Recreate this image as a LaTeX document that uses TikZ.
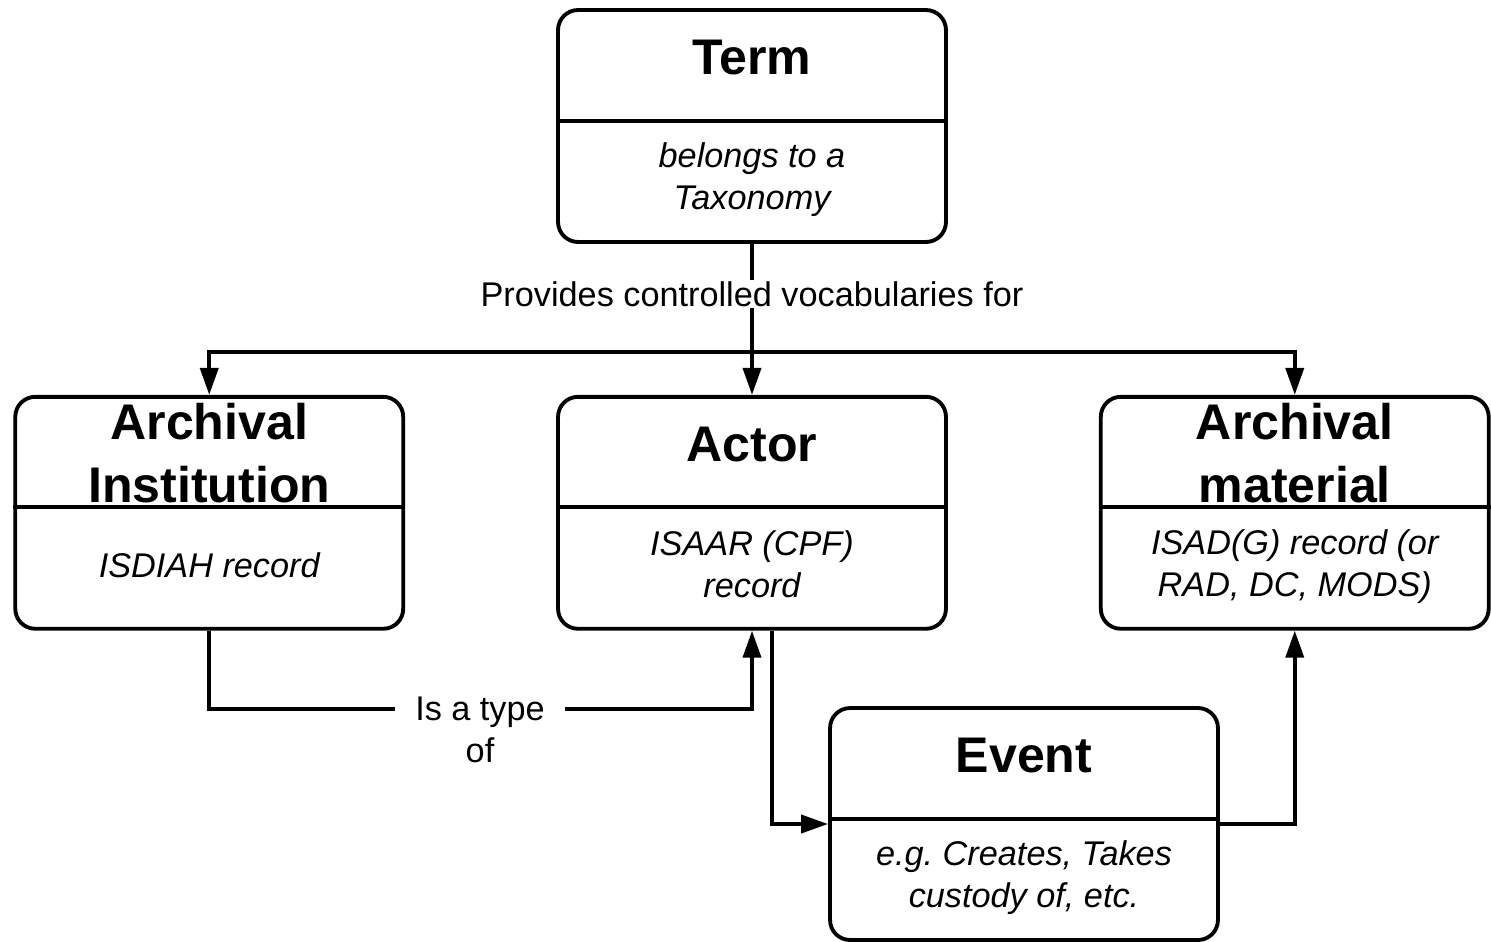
\documentclass[tikz,border=0pt]{standalone}
\usepackage{fontspec}
\setmainfont{Liberation Sans}
\usetikzlibrary{positioning, arrows.meta}
\frenchspacing

\begin{document}
\begin{tikzpicture}[x=0.02cm, y=-0.02cm, line width=2.2pt, node distance=3.02cm,
    >={Triangle[length=0.54cm, width=0.36cm]},
    box/.style={draw, rounded corners=0.4cm, minimum width=7.76cm, minimum height=4.64cm, inner sep=0pt},
    head/.style={font=\fontsize{28.5}{36}\selectfont\bfseries, align=center},
    body/.style={font=\fontsize{19.5}{24}\selectfont\itshape, align=center},
    lbl/.style={font=\fontsize{19.5}{24}\selectfont, fill=white, inner sep=1pt, align=center}]
    \useasboundingbox (0,0) rectangle (1491,941);

    \node[box] (term) at (752,126) {};
    \node[box] (actor) [below=of term] {};
    \node[box] (inst) [left=of actor] {};
    \node[box] (mat) [right=of actor] {};
    \node[box] (event) at (1024,824) {};

    % dividers
    \foreach \b in {term, actor, inst, mat, event}
        \draw ([yshift=-2.25cm]\b.north west) -- ([yshift=-2.25cm]\b.north east);

    \node[head] (termhead) at ([yshift=-0.99cm]term.north) {Term};
    \node[body] (termbody) at ([yshift=-3.43cm]term.north) {belongs to a\\Taxonomy};
    \node[head] (insthead) at ([yshift=-1.17cm]inst.north) {Archival\\Institution};
    \node[body] (instbody) at ([yshift=-3.4cm]inst.north) {ISDIAH record};
    \node[head] (actorhead) at ([yshift=-1.0cm]actor.north) {Actor};
    \node[body] (actorbody) at ([yshift=-3.38cm]actor.north) {ISAAR (CPF)\\record};
    \node[head] (mathead) at ([yshift=-1.17cm]mat.north) {Archival\\material};
    \node[body] (matbody) at ([yshift=-3.44cm]mat.north) {ISAD(G) record (or\\RAD, DC, MODS)};
    \node[head] (eventhead) at ([yshift=-0.99cm]event.north) {Event};
    \node[body] (eventbody) at ([yshift=-3.43cm]event.north) {e.g. Creates, Takes\\custody of, etc.};

    \coordinate (bus) at (752,352);
    \draw[->] (term) -- (actor);
    \draw[->] (bus) -| (inst.north);
    \draw[->] (bus) -| (mat.north);
    \node[lbl] (provides) at (752,294) {Provides controlled vocabularies for};

    \draw[->] (inst.south) -- ++(0,78) -| (actor.south);
    \node[lbl, inner xsep=0.4cm] (typeof) at (480,730) {Is a type\\of};

    \draw[->] ([xshift=0.4cm]actor.south) |- (event.west);
    \draw[->] (event.east) -| (mat.south);
\end{tikzpicture}
\end{document}
